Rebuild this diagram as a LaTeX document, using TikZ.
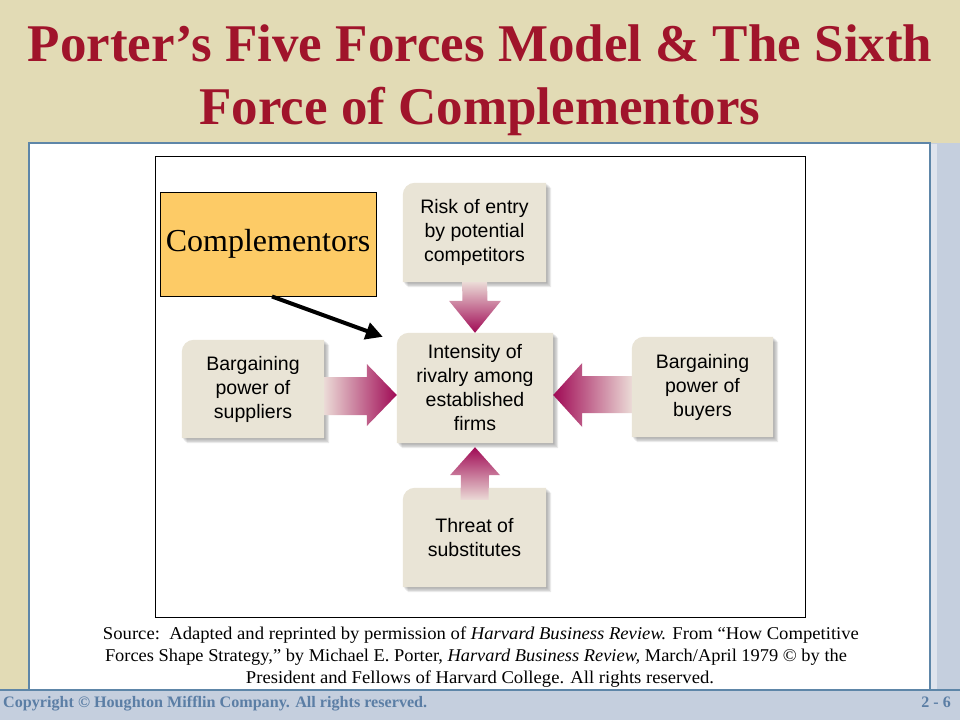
\documentclass[tikz,border=0pt]{standalone}
\usepackage{fontspec}
\setmainfont{Liberation Serif}
\newfontfamily\boxfont{Liberation Sans}
\usetikzlibrary{calc,arrows.meta}
\definecolor{slidebeige}{HTML}{E2DBB5}
\definecolor{slideblue}{HTML}{C5CFDE}
\definecolor{borderblue}{HTML}{5E86A8}
\definecolor{titlered}{HTML}{A0142B}
\definecolor{copyblue}{HTML}{5B7EA5}
\definecolor{boxbeige}{HTML}{E9E4D6}
\definecolor{compfill}{HTML}{FDCB66}
\definecolor{arrowdark}{HTML}{A00A55}
\definecolor{arrowpale}{HTML}{EBDAD6}
\colorlet{arrowmid}{arrowdark!72!arrowpale}
\pgfdeclarelayer{slide}
\pgfdeclarelayer{bg}
\pgfsetlayers{slide,bg,main}
\newcommand\forcepath[2]{([xshift=#2pt,yshift=-#2pt-12pt]#1.north west)
    arc[start angle=180, end angle=90, radius=12pt]
    -- ([xshift=#2pt,yshift=-#2pt]#1.north east) -- ([xshift=#2pt,yshift=-#2pt]#1.south east)
    -- ([xshift=#2pt,yshift=-#2pt]#1.south west) -- cycle}
\newcommand\forcebg[1]{%
  \foreach \s in {1.2,2.4,3.6,4.8}{%
    \fill[black, opacity=0.085] \forcepath{#1}{\s};}
  \fill[boxbeige] \forcepath{#1}{0};}
\begin{document}
\begin{tikzpicture}[x=1pt,y=-1pt,
  force/.style={rectangle, inner sep=0pt, align=center,
    font=\boxfont\fontsize{19.5}{24}\selectfont, text=black},
  titletext/.style={anchor=base, inner sep=0pt, text=titlered,
    font=\bfseries\fontsize{53}{63}\selectfont},
  srctext/.style={anchor=base, inner sep=0pt, font=\fontsize{18}{22}\selectfont},
  foottext/.style={inner sep=0pt, text=copyblue, font=\bfseries\fontsize{16}{18}\selectfont},
  fatdown/.style={top color=arrowpale, middle color=arrowmid, bottom color=arrowdark},
  fatup/.style={bottom color=arrowpale, middle color=arrowmid, top color=arrowdark},
  fatright/.style={left color=arrowpale, middle color=arrowmid, right color=arrowdark},
  fatleft/.style={right color=arrowpale, middle color=arrowmid, left color=arrowdark}]
\useasboundingbox (0,0) rectangle (960,720);
% slide background
\begin{pgfonlayer}{slide}
\fill[slidebeige] (0,0) rectangle (960,720);
\fill[slideblue] (930,143) rectangle (960,720);
\fill[slideblue] (0,690) rectangle (960,720);
\fill[slideblue!55!white] (931,144) rectangle (937,690);
\fill[white] (29,143) rectangle (930,690);
\draw[borderblue, line width=1.5pt] (29,690) -- (29,143) -- (930,143) -- (930,690);
\draw[borderblue, line width=1.5pt] (0,690) -- (960,690);
\end{pgfonlayer}
% title
\node[titletext] (t1) at (480,61) {Porter’s Five Forces Model \& The Sixth};
\node[titletext] (t2) at (480,124) {Force of Complementors};
% figure frame
\draw[black, line width=0.8pt] (155,156) rectangle (805,617);
% force boxes
\node[force, minimum width=143pt, minimum height=99pt] (risk) at (474.5,232.5)
  {Risk of entry\\by potential\\competitors};
\node[force, minimum width=156pt, minimum height=110pt] (center) at (475,388)
  {Intensity of\\rivalry among\\established\\firms};
\node[force, minimum width=142pt, minimum height=98pt] (supp) at (253,389)
  {Bargaining\\power of\\suppliers};
\node[force, minimum width=141pt, minimum height=100pt] (buy) at (702.5,387)
  {Bargaining\\power of\\buyers};
\node[force, minimum width=143pt, minimum height=99pt] (threat) at (474.5,537.5)
  {Threat of\\substitutes};
\begin{pgfonlayer}{bg}
  \forcebg{risk}
  \forcebg{center}
  \forcebg{supp}
  \forcebg{buy}
  \forcebg{threat}
\end{pgfonlayer}
% fat gradient arrows
\shade[fatdown]
  ([xshift=-12.5pt]risk.south) -- ([xshift=12.5pt]risk.south)
  -- ([xshift=12.5pt,yshift=32pt]center.north) -- ([xshift=26pt,yshift=32pt]center.north)
  -- (center.north)
  -- ([xshift=-26pt,yshift=32pt]center.north) -- ([xshift=-12.5pt,yshift=32pt]center.north) -- cycle;
\shade[fatup]
  ([xshift=-14pt,yshift=-12pt]threat.north) -- ([xshift=14pt,yshift=-12pt]threat.north)
  -- ([xshift=14pt,yshift=-32pt]center.south) -- ([xshift=25pt,yshift=-32pt]center.south)
  -- ([yshift=-4pt]center.south)
  -- ([xshift=-25pt,yshift=-32pt]center.south) -- ([xshift=-14pt,yshift=-32pt]center.south) -- cycle;
\shade[fatright]
  ([yshift=12pt]supp.east) -- ([xshift=-30pt,yshift=11pt]center.west)
  -- ([xshift=-30pt,yshift=24pt]center.west) -- ([yshift=-7pt]center.west)
  -- ([xshift=-30pt,yshift=-38pt]center.west) -- ([xshift=-30pt,yshift=-27pt]center.west)
  -- ([yshift=-26pt]supp.east) -- cycle;
\shade[fatleft]
  ([yshift=11pt]buy.west) -- ([xshift=29pt,yshift=12pt]center.east)
  -- ([xshift=29pt,yshift=25pt]center.east) -- ([yshift=-7pt]center.east)
  -- ([xshift=29pt,yshift=-39pt]center.east) -- ([xshift=29pt,yshift=-25pt]center.east)
  -- ([yshift=-26pt]buy.west) -- cycle;
% complementors
\node[draw=black, line width=1pt, fill=compfill, minimum width=216pt, minimum height=104pt,
  inner sep=0pt, font=\fontsize{32}{36}\selectfont] (comp) at (268,244) {Complementors};
\coordinate (ctip) at ([xshift=-14pt,yshift=-4pt]center.north west);
\draw[line width=4pt, -{Triangle[length=17pt,width=17pt]}] ([xshift=4pt]comp.south) -- (ctip);
% source
\node[srctext] (s1) at (481,639) {\resizebox{756pt}{\height}{Source:\ \ Adapted and reprinted by permission of \textit{Harvard Business Review.} From “How Competitive}};
\node[srctext] (s2) at (476,661) {\resizebox{742pt}{\height}{Forces Shape Strategy,” by Michael E. Porter, \textit{Harvard Business Review,} March/April 1979 © by the}};
\node[srctext] (s3) at (480,683) {\resizebox{468pt}{\height}{President and Fellows of Harvard College. All rights reserved.}};
% footer
\node[foottext, anchor=base west] (copy) at (3,707) {\resizebox{424pt}{\height}{Copyright © Houghton Mifflin Company. All rights reserved.}};
\node[foottext, anchor=base east] (page) at (951,707) {2 - 6};
\end{tikzpicture}
\end{document}
